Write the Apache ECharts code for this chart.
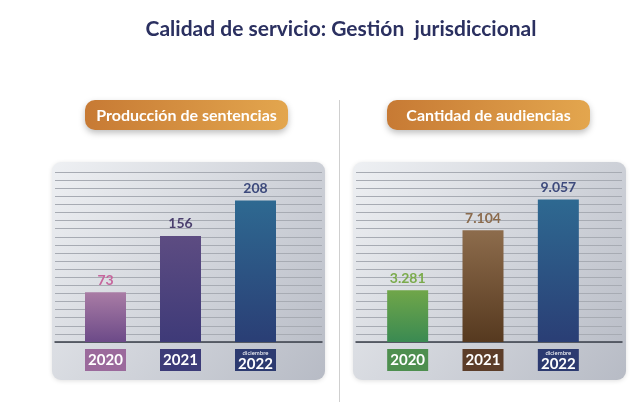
<!DOCTYPE html>
<html>
<head>
<meta charset="utf-8">
<script src="https://cdn.jsdelivr.net/npm/echarts@6/dist/echarts.min.js"></script>
<style>
  html, body { margin: 0; padding: 0; background: #fff; }
  #main { width: 640px; height: 414px; }
</style>
</head>
<body>
<div id="main"></div>
<script>
  const years = ['2020', '2021', '2022']
  const yearNotes = ['', '', 'diciembre']
  const sentencias = [73, 156, 208]
  const audiencias = [3281, 7104, 9057]

  // colores por barra (arriba, abajo), etiqueta y caja del año
  const leftBar = [['#a97ca5', '#6c4a88'], ['#5d4c82', '#3e3a78'], ['#2e6991', '#2a3e75']]
  const rightBar = [['#70a649', '#3a8a52'], ['#8d6c4c', '#56391f'], ['#2e6991', '#2a3e75']]
  const leftLabel = ['#c6649c', '#4b3f6e', '#3d4a7c']
  const rightLabel = ['#7bab4c', '#8b6b4d', '#3d4a7c']
  const leftBox = ['#9b6a9c', '#3c3b78', '#2c3a70']
  const rightBox = ['#4e8f4f', '#5c3d29', '#2c3a70']

  const FONT = 'Lato'
  const chart = echarts.init(document.getElementById('main'))

  function dots(v) {
    return String(v).replace(/\B(?=(\d{3})+(?!\d))/g, '.')
  }

  function barData(values, bars, labels) {
    return values.map((v, i) => ({
      value: v,
      itemStyle: {
        color: new echarts.graphic.LinearGradient(0, 0, 0, 1, [
          {offset: 0, color: bars[i][0]},
          {offset: 1, color: bars[i][1]}
        ])
      },
      label: {color: labels[i]}
    }))
  }

  function yearRich(boxes) {
    const rich = {}
    boxes.forEach((c, i) => {
      rich['y' + i] = {
        backgroundColor: c, color: '#fff', fontFamily: FONT, fontWeight: 'bold',
        fontSize: 15, width: 41, height: 22, lineHeight: 22, align: 'center'
      }
      rich['s' + i] = {
        backgroundColor: c, color: '#fff', fontFamily: FONT, fontSize: 6,
        width: 41, height: 8, lineHeight: 8, align: 'center', verticalAlign: 'bottom'
      }
      rich['c' + i] = {
        backgroundColor: c, color: '#fff', fontFamily: FONT, fontWeight: 'bold',
        fontSize: 15, width: 41, height: 14, lineHeight: 14, align: 'center'
      }
    })
    return rich
  }

  function yearFormatter(v, i) {
    return yearNotes[i] ? '{s' + i + '|' + yearNotes[i] + '}\n{c' + i + '|' + v + '}' : '{y' + i + '|' + v + '}'
  }

  function decoX(grid) {
    return {
      gridIndex: grid, type: 'value', min: 0, max: 1,
      axisLine: {show: true, lineStyle: {color: '#3a3f4a', width: 1.5}},
      axisTick: {show: false}, axisLabel: {show: false}, splitLine: {show: false}
    }
  }

  function decoY(grid) {
    return {
      gridIndex: grid, type: 'value', min: 0, max: 21, interval: 1,
      axisLine: {show: false}, axisTick: {show: false}, axisLabel: {show: false},
      splitLine: {show: true, lineStyle: {color: '#a7abb3', width: 1}}
    }
  }

  function catX(grid, boxes) {
    return {
      gridIndex: grid, type: 'category', data: years,
      axisLine: {show: false}, axisTick: {show: false},
      axisLabel: {interval: 0, margin: 7, formatter: yearFormatter, rich: yearRich(boxes)}
    }
  }

  function panel(x) {
    return {
      type: 'rect', z: -10,
      shape: {x: x, y: 162, width: 273, height: 218, r: 9},
      style: {
        fill: new echarts.graphic.LinearGradient(0, 0, 1, 1, [
          {offset: 0, color: '#eef0f3'},
          {offset: 1, color: '#b7bbc5'}
        ]),
        shadowBlur: 4, shadowColor: 'rgba(0,0,0,0.12)', shadowOffsetY: 1
      }
    }
  }

  function pill(x, text) {
    return {
      type: 'group',
      children: [
        {
          type: 'rect',
          shape: {x: x, y: 100, width: 203, height: 30, r: 10},
          style: {
            fill: new echarts.graphic.LinearGradient(0, 0, 1, 0, [
              {offset: 0, color: '#c77a34'},
              {offset: 1, color: '#e3a64e'}
            ]),
            shadowBlur: 6, shadowColor: 'rgba(0,0,0,0.25)', shadowOffsetY: 3
          }
        },
        {
          type: 'text',
          style: {
            text: text, x: x + 101.5, y: 116, align: 'center', verticalAlign: 'middle',
            fill: '#fff', fontFamily: FONT, fontWeight: 'bold', fontSize: 16
          }
        }
      ]
    }
  }

  chart.setOption({
    backgroundColor: '#fff',
    title: {
      text: 'Calidad de servicio: Gestión  jurisdiccional',
      left: 336, top: 14, textAlign: 'center',
      textStyle: {fontFamily: FONT, fontWeight: 'bold', fontSize: 21, color: '#2b3060'}
    },
    graphic: [
      panel(52),
      panel(353),
      {
        type: 'line', z: -10,
        shape: {x1: 339.5, y1: 100, x2: 339.5, y2: 402},
        style: {stroke: '#cfcfcf', lineWidth: 1}
      },
      pill(85, 'Producción de sentencias'),
      pill(387, 'Cantidad de audiencias')
    ],
    grid: [
      {left: 55, top: 172, width: 267, height: 170},
      {left: 68, top: 172, width: 225, height: 170},
      {left: 356, top: 172, width: 266, height: 170},
      {left: 370, top: 172, width: 226, height: 170}
    ],
    xAxis: [
      decoX(0),
      catX(1, leftBox),
      decoX(2),
      catX(3, rightBox)
    ],
    yAxis: [
      decoY(0),
      {gridIndex: 1, type: 'value', min: 0, max: 250, show: false},
      decoY(2),
      {gridIndex: 3, type: 'value', min: 0, max: 10800, show: false}
    ],
    series: [
      {
        name: 'Producción de sentencias',
        type: 'bar', xAxisIndex: 1, yAxisIndex: 1, barWidth: 41,
        label: {
          show: true, position: 'top', distance: 5,
          fontFamily: FONT, fontWeight: 'bold', fontSize: 14
        },
        data: barData(sentencias, leftBar, leftLabel)
      },
      {
        name: 'Cantidad de audiencias',
        type: 'bar', xAxisIndex: 3, yAxisIndex: 3, barWidth: 41,
        label: {
          show: true, position: 'top', distance: 5,
          fontFamily: FONT, fontWeight: 'bold', fontSize: 14,
          formatter: p => dots(p.value)
        },
        data: barData(audiencias, rightBar, rightLabel)
      }
    ]
  })
</script>
</body>
</html>
